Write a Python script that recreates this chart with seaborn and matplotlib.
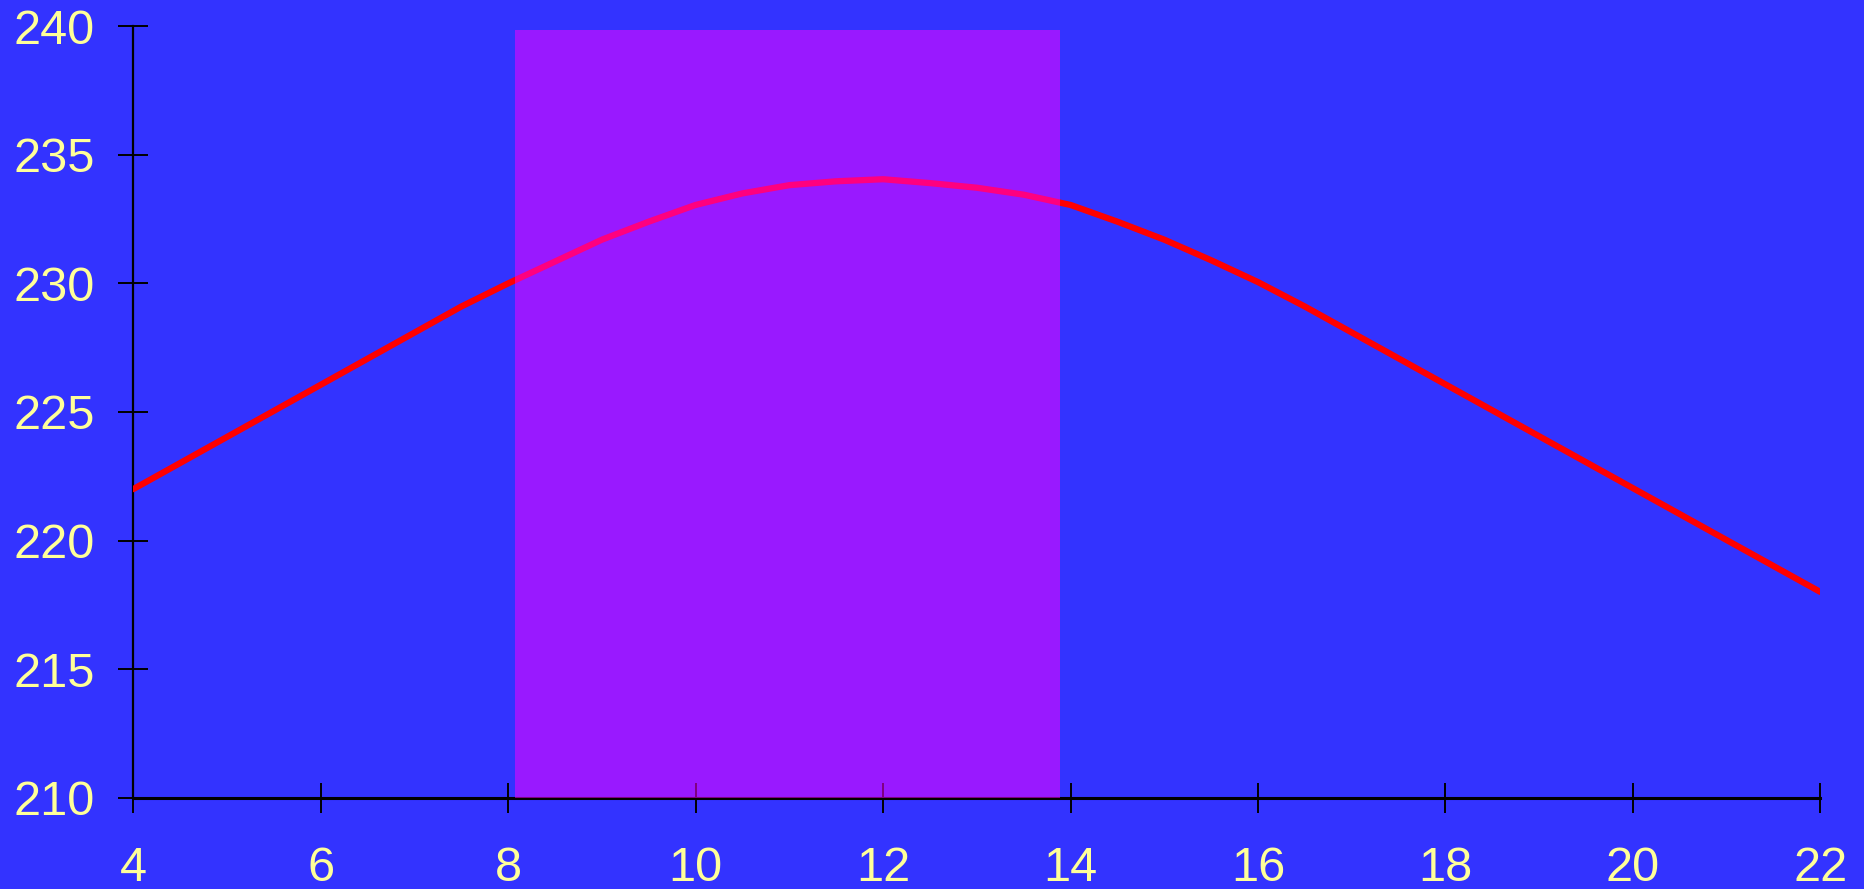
import matplotlib
matplotlib.use("Agg")
import matplotlib.pyplot as plt
import seaborn as sns
import pandas as pd

# data
x_vals = [4, 7.5, 8, 8.5, 9, 9.5, 10, 10.5, 11, 11.5, 12, 12.5, 13, 13.5, 14, 14.5, 15, 15.5, 16, 16.5, 22]
y_vals = [222, 229.1, 230.0, 230.85, 231.7, 232.4, 233.05, 233.5, 233.82, 233.97, 234.05,
          233.9, 233.72, 233.45, 233.05, 232.4, 231.7, 230.9, 230.05, 229.1, 218]
x_ticks = [4, 6, 8, 10, 12, 14, 16, 18, 20, 22]
y_ticks = [210, 215, 220, 225, 230, 235, 240]
span_x = [8.07, 13.89]
span_top = 239.85

df = pd.DataFrame({"x": x_vals, "y": y_vals})

sns.set_style("ticks")
plt.rcParams["font.family"] = ["Liberation Sans", "DejaVu Sans"]

fig = plt.figure(figsize=(18.64, 8.89), dpi=100)
fig.patch.set_facecolor("#3333ff")
ax = fig.add_axes([0.0715, 0.1027, 0.9051, 0.8678])
ax.set_facecolor("#3333ff")

sns.lineplot(data=df, x="x", y="y", ax=ax, color="red", zorder=1)
line = ax.lines[0]
line.set_linewidth(4.5)
line.set_solid_capstyle("round")
line.set_solid_joinstyle("round")

# highlighted band
ax.fill_between(span_x, y_ticks[0], span_top, color="magenta", alpha=0.5, linewidth=0, zorder=3)

ax.set_xlim(x_ticks[0], x_ticks[-1])
ax.set_ylim(y_ticks[0], y_ticks[-1])
ax.set_xticks(x_ticks)
ax.set_yticks(y_ticks)
ax.set_xlabel("")
ax.set_ylabel("")

for side in ["top", "right"]:
    ax.spines[side].set_visible(False)
ax.spines["left"].set_linewidth(1.6)
ax.spines["bottom"].set_linewidth(2.2)
for side in ["left", "bottom"]:
    ax.spines[side].set_color("black")
    ax.spines[side].set_zorder(0.5)
ax.set_axisbelow(True)

ax.tick_params(axis="both", direction="inout", length=21.6, width=1.4, color="black",
               labelsize=35, labelcolor="#ffff99")
ax.tick_params(axis="x", pad=24)
ax.tick_params(axis="y", pad=17)

fig.savefig("out.png", dpi=100, facecolor=fig.get_facecolor())
